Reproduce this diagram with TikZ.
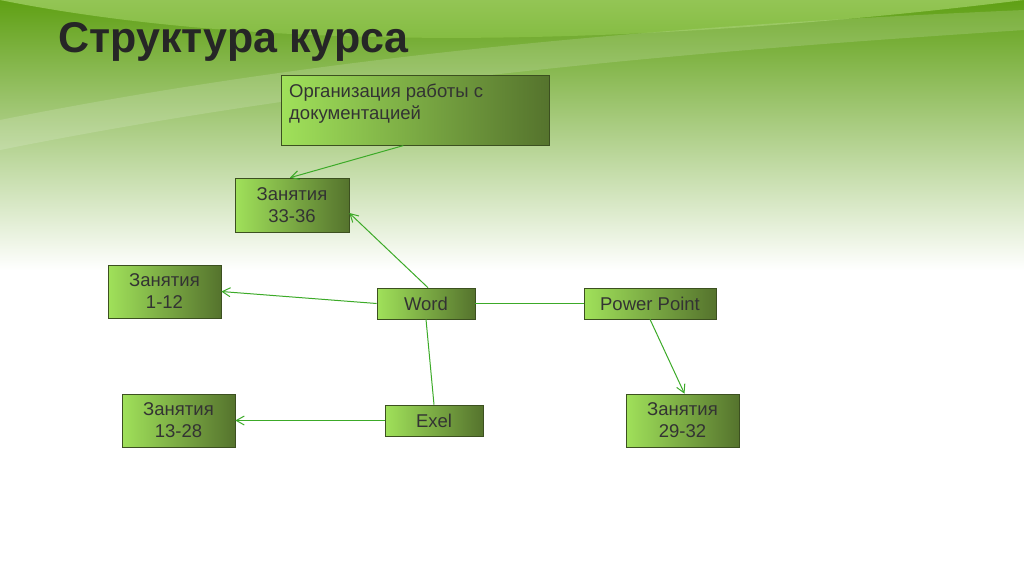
\documentclass[tikz,border=0pt]{standalone}
\usepackage{fontspec}
\setmainfont{Liberation Sans}
\usetikzlibrary{arrows.meta}
\definecolor{lg}{RGB}{160,225,90}
\definecolor{dg}{RGB}{85,115,45}
\definecolor{ln}{RGB}{60,170,40}
\tikzset{
 bx/.style={draw=dg!70!black,line width=0.6pt,left color=lg,right color=dg,minimum height=#1,inner sep=2pt,font=\fontsize{18.5}{22}\selectfont,align=center,text=black!80},
 con/.style={draw=ln,line width=1pt},
 arr/.style={con,-{Straight Barb[length=8pt,width=9pt]}}
}
\begin{document}
\begin{tikzpicture}[x=1pt,y=-1pt]
\useasboundingbox (0,0) rectangle (1024,574);
\shade[top color={rgb,255:red,95;green,160;blue,20},bottom color=white] (0,0) rectangle (1024,270);
\shade[top color={rgb,255:red,200;green,235;blue,150},bottom color={rgb,255:red,120;green,185;blue,40},opacity=0.5] (0,0) .. controls (300,60) and (700,40) .. (1024,0) -- cycle;
\fill[white,opacity=0.15] (0,120) .. controls (400,40) and (800,20) .. (1024,10) -- (1024,30) .. controls (800,45) and (400,70) .. (0,150) -- cycle;
\node[anchor=west,font=\bfseries\fontsize{43}{46}\selectfont,text=black!85] (t) at (55,42) {Структура курса};
\node[bx=70pt,minimum width=268pt,anchor=north west] (org) at (281,75) {};
\node[anchor=north west,align=left,font=\fontsize{18.5}{22}\selectfont,text=black!80,inner sep=0pt] (orgt) at (289,84) {Организация работы с\\документацией};
\node[bx=54pt,minimum width=114pt] (z33) at (292,205) {Занятия\\33-36};
\node[bx=53pt,minimum width=113pt] (z1) at (164.5,291.5) {Занятия\\1-12};
\node[bx=31pt,minimum width=98pt] (w) at (426,303.5) {Word};
\node[bx=31pt,minimum width=132pt] (pp) at (650,303.5) {Power Point};
\node[bx=31pt,minimum width=98pt] (ex) at (434,420.5) {Exel};
\node[bx=53pt,minimum width=113pt] (z13) at (178.5,420.5) {Занятия\\13-28};
\node[bx=53pt,minimum width=113pt] (z29) at (682.5,420.5) {Занятия\\29-32};
\draw[arr] ([xshift=-12pt]org.south) -- ([xshift=-2pt]z33.north);
\draw[arr] ([xshift=2pt]w.north) -- ([yshift=-8pt]z33.east);
\draw[arr] (w.west) -- (z1.east);
\draw[con] (w.east) -- (pp.west);
\draw[con] (w.south) -- (ex.north);
\draw[arr] (ex.west) -- (z13.east);
\draw[arr] (pp.south) -- ([xshift=2pt]z29.north);
\end{tikzpicture}
\end{document}
